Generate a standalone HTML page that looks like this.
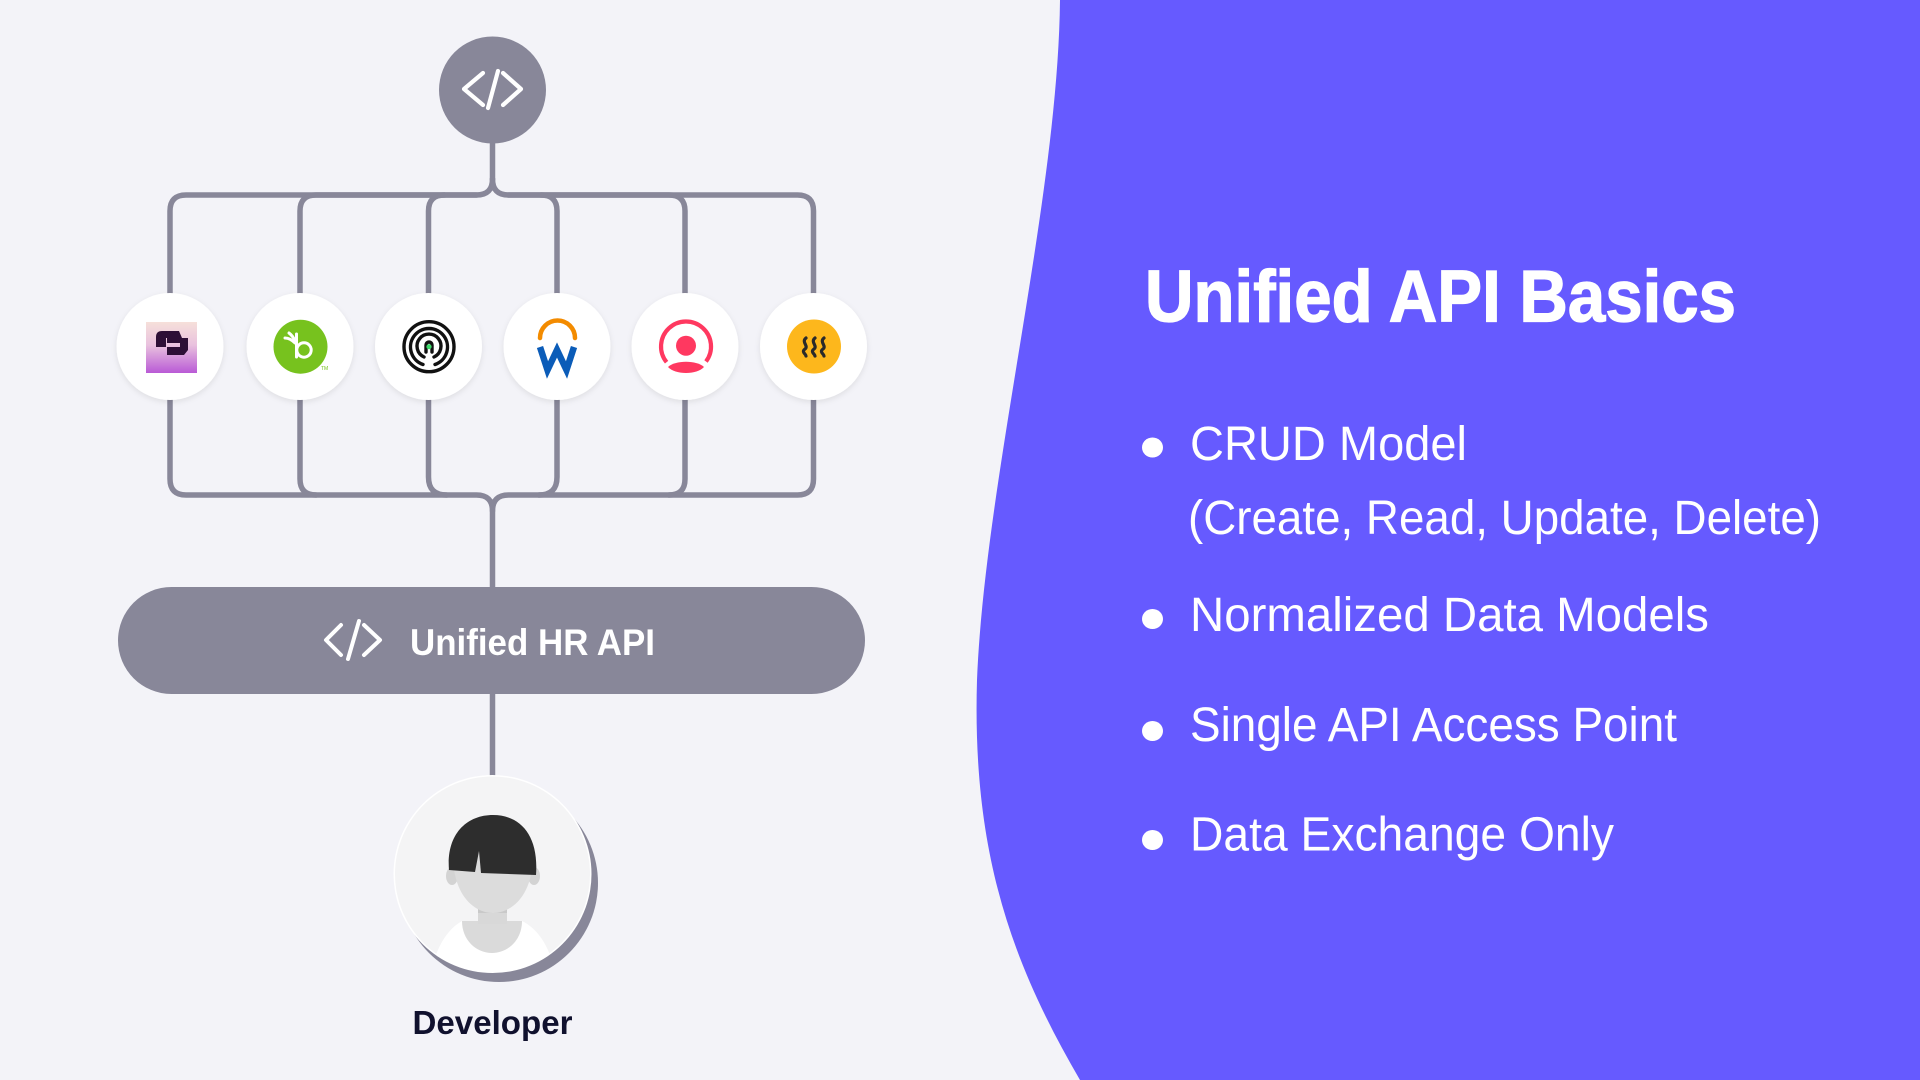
<!DOCTYPE html>
<html>
<head>
<meta charset="utf-8">
<style>
  html,body{margin:0;padding:0;width:1920px;height:1080px;overflow:hidden;background:#F3F3F8;}
  svg{display:block;}
</style>
</head>
<body>
<svg width="1920" height="1080" viewBox="0 0 1920 1080" xmlns="http://www.w3.org/2000/svg">
  <defs>
    <filter id="sh" x="-30%" y="-30%" width="160%" height="160%">
      <feDropShadow dx="0" dy="2" stdDeviation="3" flood-color="#000" flood-opacity="0.09"/>
    </filter>
    <linearGradient id="g1" x1="0" y1="0" x2="0" y2="1">
      <stop offset="0" stop-color="#F6E0DA"/>
      <stop offset="0.45" stop-color="#E9C2DE"/>
      <stop offset="1" stop-color="#B95AD6"/>
    </linearGradient>
    <clipPath id="av"><circle cx="492.5" cy="874" r="98"/></clipPath>
  </defs>

  <rect width="1920" height="1080" fill="#F3F3F8"/>

  <!-- purple right panel -->
  <path d="M1060,0 C1058,200 985,480 977,680 C972,850 1010,960 1080,1080 L1920,1080 L1920,0 Z" fill="#665AFF"/>

  <!-- connectors -->
  <g fill="none" stroke="#888799" stroke-width="5.5" stroke-linecap="round" stroke-linejoin="round">
    <path d="M492.5,140 L492.5,179"/>
    <path d="M170,293 L170,211 Q170,195 186,195 L476.5,195 Q492.5,195 492.5,179"/>
    <path d="M300,293 L300,211 Q300,195 316,195 L476.5,195"/>
    <path d="M428.5,293 L428.5,211 Q428.5,195 444.5,195"/>
    <path d="M813.5,293 L813.5,211 Q813.5,195 797.5,195 L508.5,195 Q492.5,195 492.5,179"/>
    <path d="M685,293 L685,211 Q685,195 669,195 L508.5,195"/>
    <path d="M557,293 L557,211 Q557,195 541,195"/>
    <path d="M170,400 L170,479 Q170,495 186,495 L476.5,495 Q492.5,495 492.5,511 L492.5,588"/>
    <path d="M300,400 L300,479 Q300,495 316,495"/>
    <path d="M428.5,400 L428.5,477 Q428.5,495 446.5,495"/>
    <path d="M813.5,400 L813.5,479 Q813.5,495 797.5,495 L508.5,495 Q492.5,495 492.5,511"/>
    <path d="M685,400 L685,479 Q685,495 669,495"/>
    <path d="M557,400 L557,477 Q557,495 539,495"/>
    <path d="M492.5,692 L492.5,776"/>
  </g>

  <!-- top code circle -->
  <circle cx="492.5" cy="90" r="53.5" fill="#888799"/>
  <g fill="none" stroke="#fff" stroke-width="4.2" stroke-linecap="round" stroke-linejoin="round">
    <path d="M483,73 L464,89 L483,105"/>
    <path d="M498,71 L488,108"/>
    <path d="M503,73 L521,89 L503,105"/>
  </g>

  <!-- icon circles -->
  <g filter="url(#sh)" fill="#fff">
    <circle cx="170" cy="346.5" r="53.5"/>
    <circle cx="300" cy="346.5" r="53.5"/>
    <circle cx="428.5" cy="346.5" r="53.5"/>
    <circle cx="557" cy="346.5" r="53.5"/>
    <circle cx="685" cy="346.5" r="53.5"/>
    <circle cx="813.5" cy="346.5" r="53.5"/>
  </g>

  <!-- logo 1 -->
  <rect x="146" y="322" width="51" height="51" fill="url(#g1)"/>
  <path d="M156,337 Q156,331 162,331 L179,331 L182,338 L166,338 L166,347 L156,347 Z" fill="#2D0F36"/>
  <path d="M167,338 L188,338 L188,350 L184,355 L167,355 L167,347 L180,347 L180,343 L167,343 Z" fill="#2D0F36"/>

  <!-- logo 2 bamboo -->
  <circle cx="300.5" cy="346.7" r="27" fill="#77C21E"/>
  <g fill="none" stroke="#fff" stroke-width="3" stroke-linecap="round">
    <path d="M296.5,334 L296.5,357"/>
    <circle cx="304" cy="350" r="7.2"/>
    <path d="M285,338 Q290,338 295,343"/>
    <path d="M289,333 Q293,336 295,341"/>
  </g>
  <text x="321" y="370" font-family="Liberation Sans, sans-serif" font-size="5" fill="#77C21E">TM</text>

  <!-- logo 3 labyrinth -->
  <g fill="none" stroke="#111" stroke-width="3.4" stroke-linecap="round">
    <circle cx="429" cy="346.7" r="25"/>
    <path d="M423,364.5 A18.5,18.5 0 1,1 435,364.5"/>
    <path d="M424,357 A12,12 0 1,1 434,357"/>
    <path d="M426,352 L426,345 A3,3 0 0,1 432,345 L432,352"/>
  </g>
  <circle cx="429" cy="346.7" r="2.6" fill="#3DDB6B"/>

  <!-- logo 4 workday -->
  <path d="M540,338 A17.5,17.5 0 0,1 575,338" fill="none" stroke="#F38B00" stroke-width="4.5" stroke-linecap="round"/>
  <path d="M540,347 L547.5,370 L557,350 L566.5,370 L574,347" fill="none" stroke="#0B5CB8" stroke-width="6.5" stroke-linejoin="miter"/>

  <!-- logo 5 person ring -->
  <path d="M666.6,362.2 A25,25 0 1,1 706,361.5" fill="none" stroke="#FF3860" stroke-width="4.2"/>
  <circle cx="686" cy="345.7" r="10" fill="#FF3860"/>
  <path d="M668,367 C675,360 697,360 704,367 C697,375 675,375 668,367 Z" fill="#FF3860"/>

  <!-- logo 6 yellow -->
  <circle cx="814" cy="346.5" r="27" fill="#FDB71C"/>
  <g fill="none" stroke="#2A2A2A" stroke-width="3.2" stroke-linecap="round">
    <path d="M806,338 C801,342 809,346 805,349 C801,352 806,354 806,356"/>
    <path d="M815,338 C810,342 818,346 814,349 C810,352 815,354 815,356"/>
    <path d="M824,338 C819,342 827,346 823,349 C819,352 824,354 824,356"/>
  </g>

  <!-- Unified HR API pill -->
  <rect x="118" y="587" width="747" height="107" rx="53.5" fill="#888799"/>
  <g fill="none" stroke="#fff" stroke-width="4" stroke-linecap="round" stroke-linejoin="round">
    <path d="M341,625 L326,640 L341,655"/>
    <path d="M359,621 L348,659"/>
    <path d="M364,625 L380,640 L364,655"/>
  </g>
  <text x="410" y="655" font-family="Liberation Sans, sans-serif" font-size="37" font-weight="bold" fill="#fff" textLength="245" lengthAdjust="spacingAndGlyphs">Unified HR API</text>

  <!-- Developer avatar -->
  <circle cx="499" cy="883" r="99" fill="#888799"/>
  <circle cx="492.5" cy="874" r="99" fill="#fff"/>
  <circle cx="492.5" cy="874" r="97.5" fill="#F4F4F5"/>
  <g clip-path="url(#av)">
    <path d="M428,985 C434,950 446,930 462,921 L522,921 C540,930 552,950 558,985 Z" fill="#fff"/>
    <path d="M462,921 L522,921 C522,940 508,953 492,953 C476,953 462,940 462,921 Z" fill="#DADADA"/>
    <rect x="478" y="900" width="29" height="24" fill="#D8D8D8"/>
    <rect x="478" y="909" width="29" height="4" fill="#C9C9C9"/>
    <ellipse cx="452" cy="876" rx="6" ry="9" fill="#D3D3D3"/>
    <ellipse cx="534" cy="876" rx="6" ry="9" fill="#D3D3D3"/>
    <path d="M453,855 C453,895 474,913 493,913 C512,913 533,895 533,855 C533,835 515,822 493,822 C471,822 453,835 453,855 Z" fill="#DCDCDC"/>
    <path d="M449,870 C446,835 466,815 493,815 C520,815 539,835 536,875 L481,873 L479,851 L475,872 Z" fill="#2D2D2D"/>
  </g>

  <text x="412.5" y="1034" font-family="Liberation Sans, sans-serif" font-size="33" font-weight="bold" fill="#10112E" textLength="160" lengthAdjust="spacingAndGlyphs">Developer</text>

  <!-- right side text -->
  <text x="1145" y="321.5" font-family="Liberation Sans, sans-serif" font-size="73" font-weight="bold" fill="#fff" stroke="#fff" stroke-width="1.3" textLength="591" lengthAdjust="spacingAndGlyphs">Unified API Basics</text>

  <g fill="#fff">
    <ellipse cx="1152.5" cy="447.5" rx="10.5" ry="10"/>
    <ellipse cx="1152.5" cy="619" rx="10.5" ry="10"/>
    <ellipse cx="1152.5" cy="731" rx="10.5" ry="10"/>
    <ellipse cx="1152.5" cy="840" rx="10.5" ry="10"/>
  </g>
  <g font-family="Liberation Sans, sans-serif" font-size="48" fill="#fff">
    <text x="1190" y="460" textLength="277" lengthAdjust="spacingAndGlyphs">CRUD Model</text>
    <text x="1188" y="534" textLength="633" lengthAdjust="spacingAndGlyphs">(Create, Read, Update, Delete)</text>
    <text x="1190" y="631" textLength="519" lengthAdjust="spacingAndGlyphs">Normalized Data Models</text>
    <text x="1190" y="741" textLength="487" lengthAdjust="spacingAndGlyphs">Single API Access Point</text>
    <text x="1190" y="850.5" textLength="424" lengthAdjust="spacingAndGlyphs">Data Exchange Only</text>
  </g>
</svg>
</body>
</html>
